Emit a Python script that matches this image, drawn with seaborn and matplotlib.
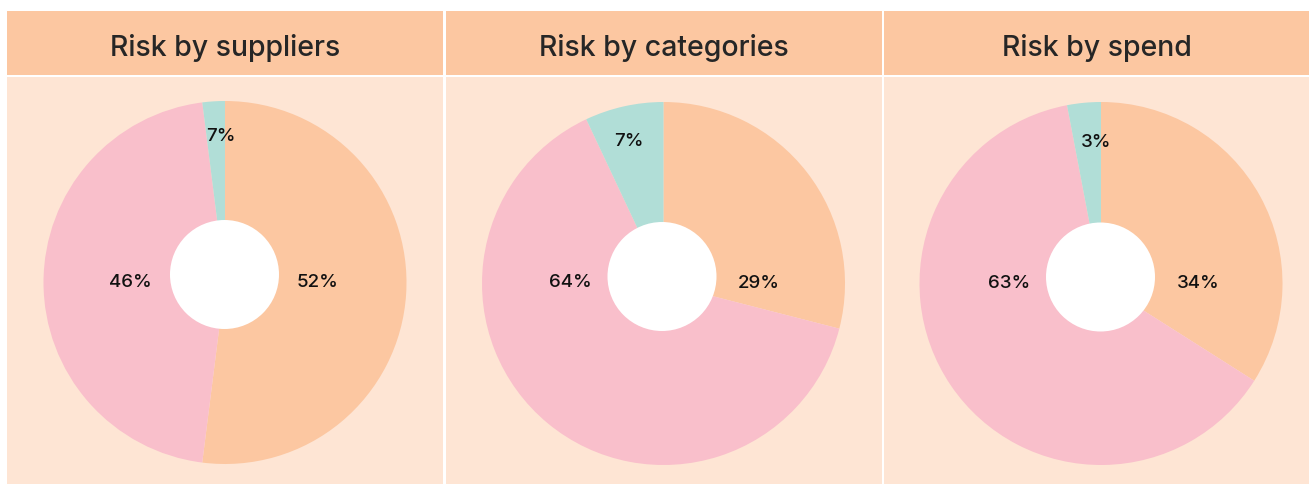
import matplotlib
matplotlib.use('Agg')
import matplotlib.pyplot as plt
from matplotlib.patches import Rectangle, Circle
import seaborn as sns

# Dados dos três donuts
titles = ["Risk by suppliers", "Risk by categories", "Risk by spend"]
segments = ["Low", "High", "Medium"]
suppliers = [52, 46, 2]
categories = [29, 64, 7]
spend = [34, 63, 3]
# rótulos como aparecem no gráfico original
suppliers_labels = ["52%", "46%", "7%"]
categories_labels = ["29%", "64%", "7%"]
spend_labels = ["34%", "63%", "3%"]

series = [suppliers, categories, spend]
series_labels = [suppliers_labels, categories_labels, spend_labels]

sns.set_theme(style="white")
plt.rcParams['font.family'] = ['Inter', 'DejaVu Sans']
cores = sns.color_palette(["#FCC7A1", "#F9BFCB", "#B1DED7"])
header_cor = "#FCC7A1"
body_cor = "#FEE5D4"

W, H = 1309, 485
fig = plt.figure(figsize=(W / 100, H / 100), dpi=100)
ax = fig.add_axes([0, 0, 1, 1])

def y(v):
    # coordenada de imagem (de cima) -> coordenada do eixo
    return H - v

# painéis: (x0, x1), centro do pie, centro do furo, posições dos rótulos
paineis = [
    dict(x=(7, 443), c=(225, 283.5), hole=(224.5, 275.5),
         pos=[(318, 279.5), (130, 280), (221, 133.5)]),
    dict(x=(446, 881.5), c=(663.5, 284.5), hole=(662, 277.5),
         pos=[(759, 280.5), (570, 280), (628.5, 139)]),
    dict(x=(884, 1309), c=(1101, 284.5), hole=(1100.5, 278),
         pos=[(1198, 280.5), (1009.5, 280.5), (1096.5, 139.5)]),
]

for titulo, valores, rotulos, p in zip(titles, series, series_labels, paineis):
    x0, x1 = p['x']
    # faixa do título e corpo
    ax.add_patch(Rectangle((x0, y(75.5)), x1 - x0, 75.5 - 12, color=header_cor, lw=0, zorder=0))
    ax.add_patch(Rectangle((x0, y(485)), x1 - x0, 485 - 78, color=body_cor, lw=0, zorder=0))
    ax.text((x0 + x1) / 2, y(55.7), titulo, ha='center', va='baseline',
            fontsize=20.5, color="#262626", fontweight='medium')

    ax.pie(valores, colors=cores, startangle=90, counterclock=False,
           center=(p['c'][0], y(p['c'][1])), radius=181.5, frame=True,
           wedgeprops=dict(linewidth=0))
    ax.add_patch(Circle((p['hole'][0], y(p['hole'][1])), 54.5, color='white', lw=0, zorder=5))

    for txt, (tx, ty) in zip(rotulos, p['pos']):
        ax.text(tx, y(ty + 7.2), txt, ha='center', va='baseline', fontsize=13.5,
                color="#111111", fontweight='medium', zorder=6)

ax.set_xlim(0, W)
ax.set_ylim(0, H)
ax.set_aspect('auto')
ax.set_axis_off()

fig.savefig('out.png', dpi=100, facecolor='white')
